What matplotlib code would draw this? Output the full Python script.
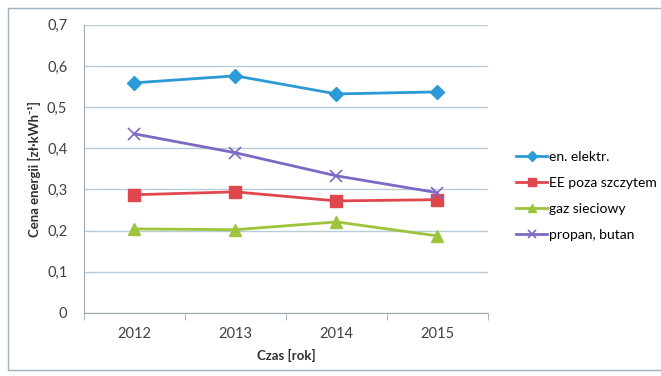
import matplotlib.pyplot as plt
from matplotlib.patches import Rectangle

years = ['2012', '2013', '2014', '2015']
en_elektr = [0.559, 0.576, 0.532, 0.537]
ee_poza = [0.287, 0.294, 0.272, 0.275]
gaz = [0.204, 0.202, 0.221, 0.187]
propan = [0.435, 0.389, 0.333, 0.292]

plt.rcParams['font.family'] = ['Lato', 'DejaVu Sans']

fig = plt.figure(figsize=(6.61, 3.76), dpi=100)
fig.patches.append(Rectangle((0.012, 0.016), 1.2, 0.963, transform=fig.transFigure,
                             fill=False, edgecolor='#9fb0c0', linewidth=1.0))
ax = fig.add_axes([0.127, 0.168, 0.611, 0.766])

x = range(len(years))
ax.plot(x, en_elektr, color='#2c9ad6', marker='D', markersize=7, linewidth=2, label='en. elektr.')
ax.plot(x, ee_poza, color='#e0474c', marker='s', markersize=8, linewidth=2, label='EE poza szczytem')
ax.plot(x, gaz, color='#9dc43c', marker='^', markersize=8, linewidth=2, label='gaz sieciowy')
ax.plot(x, propan, color='#7d68c4', marker='x', markersize=8, markeredgewidth=1.2, linewidth=2,
        label='propan, butan')

ax.set_xlim(-0.5, 3.5)
ax.set_ylim(0, 0.7)
ax.set_yticks([i / 10 for i in range(8)])
ax.set_yticklabels(['0', '0,1', '0,2', '0,3', '0,4', '0,5', '0,6', '0,7'])
ax.set_xticks(list(x))
ax.set_xticklabels(years)
ax.set_xticks([-0.5, 0.5, 1.5, 2.5, 3.5], minor=True)
ax.tick_params(axis='x', which='major', length=0, pad=10)
ax.tick_params(axis='x', which='minor', length=5, color='#a0a8b0')
ax.tick_params(axis='y', length=0, pad=12)
ax.tick_params(labelsize=10.5, labelcolor='#404040')

ax.grid(axis='y', color='#b8ccd8', linewidth=1)
ax.set_axisbelow(True)
for s in ['top', 'right']:
    ax.spines[s].set_visible(False)
ax.spines['left'].set_color('#a0a8b0')
ax.spines['bottom'].set_color('#a0a8b0')

ax.set_ylabel('Cena energii [zł·kWh⁻¹]', fontsize=9.5, fontweight='bold', color='#303030')
ax.set_xlabel('Czas [rok]', fontsize=9.5, fontweight='bold', color='#303030', labelpad=6)

ax.legend(loc='center left', bbox_to_anchor=(1.04, 0.405), frameon=False, fontsize=10,
          handlelength=2.2, handletextpad=0.15, labelspacing=1.0, markerscale=0.7)

fig.savefig('out.png', dpi=100)
